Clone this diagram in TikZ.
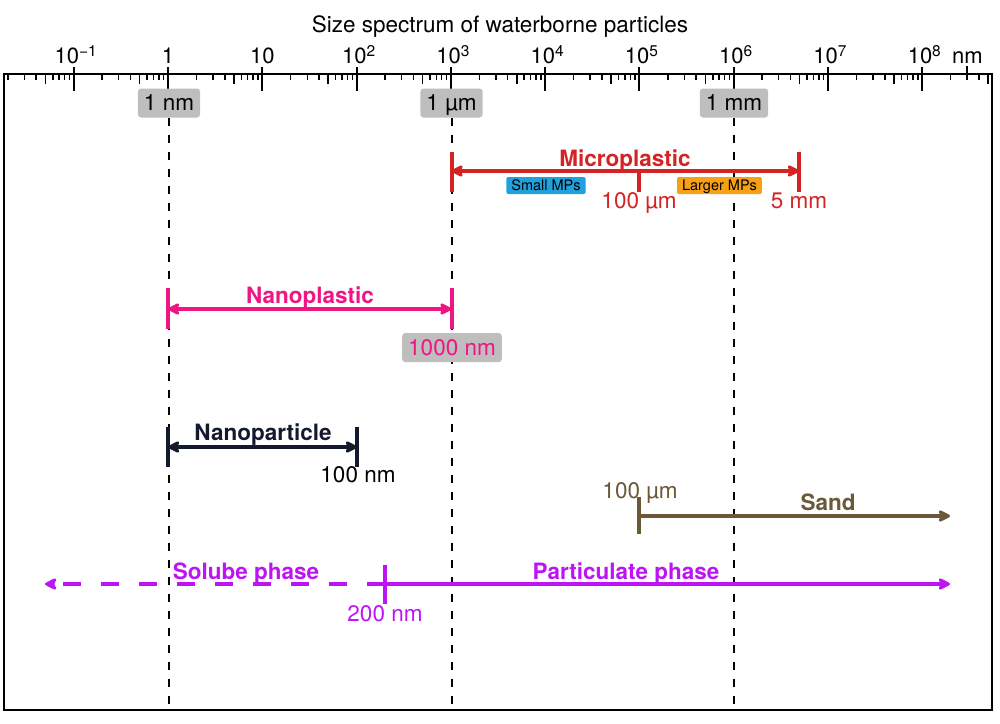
\documentclass[tikz,border=0pt]{standalone}
\usepackage{fontspec}
\setmainfont{TeX Gyre Heros}
\usetikzlibrary{arrows.meta,calc}
\definecolor{mpred}{RGB}{213,35,35}
\definecolor{nppink}{RGB}{238,22,130}
\definecolor{nanavy}{RGB}{20,26,46}
\definecolor{sdbrown}{RGB}{106,88,56}
\definecolor{phpurp}{RGB}{190,20,245}
\definecolor{smblue}{RGB}{32,160,220}
\definecolor{lgorange}{RGB}{247,160,20}
\definecolor{boxgray}{RGB}{190,190,190}
\begin{document}
\begin{tikzpicture}[x=1pt,y=-1pt,
  >={Stealth[length=14pt,width=14pt,inset=3pt,round]},
  reg/.style={font=\fontsize{22.5}{25}\selectfont, inner sep=0pt, anchor=base},
  bld/.style={font=\fontsize{22.5}{25}\selectfont\bfseries, inner sep=0pt, anchor=base},
  ticklab/.style={font=\fontsize{22}{25}\selectfont, inner sep=0pt, anchor=base},
  gbox/.style={fill=boxgray, rounded corners=3pt, minimum height=29pt, inner xsep=6pt, inner ysep=0pt, text depth=0pt, font=\fontsize{22.5}{25}\selectfont},
  cbox/.style={rounded corners=2pt, minimum height=17pt, inner xsep=5pt, inner ysep=0pt, text depth=0pt, font=\fontsize{14.5}{16}\selectfont},
  rng/.style={line width=4pt},
  vdash/.style={line width=2pt, dash pattern=on 8pt off 9pt},
  mintick/.style={line width=1.5pt},
  majtick/.style={line width=2pt}
]
\useasboundingbox (0,0) rectangle (1000,723);
\newcommand\supl[1]{\raisebox{6.5pt}{\fontsize{15.5}{15}\selectfont #1}}

% title
\node[reg] (title) at (500,32) {Size spectrum of waterborne particles};

% minor ticks
\foreach \d in {-2,...,8}{
  \foreach \m in {2,...,9}{
    \pgfmathsetmacro\xx{168+94.29*(\d+log10(\m))}
    \pgfmathsetmacro\ll{\m==5 ? 84 : 80}
    \ifdim\xx pt<990pt \ifdim\xx pt>5pt
      \draw[mintick] (\xx,74) -- (\xx,\ll);
    \fi\fi
  }
}
\draw[mintick] (967,66) -- (967,80);
% major ticks
\foreach \d in {-1,...,8}{
  \pgfmathsetmacro\xx{168+94.29*\d}
  \draw[majtick] (\xx,67) -- (\xx,91);
}
% frame
\draw[line width=2.2pt] (4,74) rectangle (992,710);
\coordinate (bot) at (0,710);

% tick labels
\node[ticklab] (tm1) at (75.7,63) {10\supl{−1}};
\node[ticklab] (t0) at (168,63) {1};
\node[ticklab] (t1) at (262.3,63) {10};
\node[ticklab] (t2) at (358.6,63) {10\supl{2}};
\node[ticklab] (t3) at (452.9,63) {10\supl{3}};
\node[ticklab] (t4) at (547.2,63) {10\supl{4}};
\node[ticklab] (t5) at (641.4,63) {10\supl{5}};
\node[ticklab] (t6) at (735.7,63) {10\supl{6}};
\node[ticklab] (t7) at (830,63) {10\supl{7}};
\node[ticklab] (t8) at (924.3,63) {10\supl{8}};
\node[ticklab] (tnm) at (967.5,63) {nm};

% gray boxes at top
\node[gbox] (g1) at (169,103) {1 nm};
\node[gbox] (g2) at (451.5,103) {1 µm};
\node[gbox] (g3) at (734,103) {1 mm};

% dashed verticals
\draw[vdash] (g1.south) -- (g1.south |- bot);
\draw[vdash] (g2.south) -- (g2.south |- bot);
\draw[vdash] (g3.south) -- (g3.south |- bot);

% Microplastic
\coordinate (mpL) at (451.5,171);
\coordinate (mpR) at (799,171);
\coordinate (mpM) at (639,171);
\draw[mpred, rng] (mpL) ++(0,-19) -- ++(0,40);
\draw[mpred, rng] (mpR) ++(0,-19) -- ++(0,40);
\draw[mpred, rng] (mpM) -- ++(0,21);
\draw[mpred, rng, <->] (mpL) -- (mpR);
\node[bld, text=mpred] (mptxt) at (625,166) {Microplastic};
\node[reg, text=mpred] (mp100) at (639,208) {100 µm};
\node[reg, text=mpred] (mp5) at (799,208) {5 mm};
\node[cbox, fill=smblue] (small) at (546,185.5) {Small MPs};
\node[cbox, fill=lgorange] (large) at (719.5,185.5) {Larger MPs};

% Nanoplastic
\coordinate (npL) at (168,309);
\coordinate (npR) at (451.5,309);
\draw[nppink, rng] (npL) ++(0,-21) -- ++(0,41);
\draw[nppink, rng] (npR) ++(0,-21) -- ++(0,41);
\draw[nppink, rng, <->] (npL) -- (npR);
\node[bld, text=nppink] (nptxt) at (310,303) {Nanoplastic};
\node[gbox, text=nppink] (np1000) at (452,347.5) {1000 nm};

% Nanoparticle
\coordinate (naL) at (168,447);
\coordinate (naR) at (357,447);
\draw[nanavy, rng] (naL) ++(0,-20) -- ++(0,40);
\draw[nanavy, rng] (naR) ++(0,-20) -- ++(0,40);
\draw[nanavy, rng, <->] (naL) -- (naR);
\node[bld, text=nanavy] (natxt) at (263,440) {Nanoparticle};
\node[reg] (na100) at (358,482) {100 nm};

% Sand
\coordinate (sdL) at (639,516);
\coordinate (sdR) at (950,516);
\draw[sdbrown, rng] (sdL) ++(0,-19) -- ++(0,37);
\draw[sdbrown, rng, ->] (sdL) -- (sdR);
\node[reg, text=sdbrown] (sd100) at (640,498) {100 µm};
\node[bld, text=sdbrown] (sdtxt) at (828,510) {Sand};

% Phases
\coordinate (phM) at (385,584);
\coordinate (phL) at (45,584);
\coordinate (phR) at (950,584);
\draw[phpurp, rng] (phM) ++(0,-19) -- ++(0,39);
\draw[phpurp, rng, ->, dash pattern=on 18pt off 20pt] (phM) -- (phL);
\draw[phpurp, rng, ->] (phM) -- (phR);
\node[bld, text=phpurp] (soltxt) at (246,579) {Solube phase};
\node[bld, text=phpurp] (partxt) at (626,579) {Particulate phase};
\node[reg, text=phpurp] (ph200) at (385,621) {200 nm};
\end{tikzpicture}
\end{document}
